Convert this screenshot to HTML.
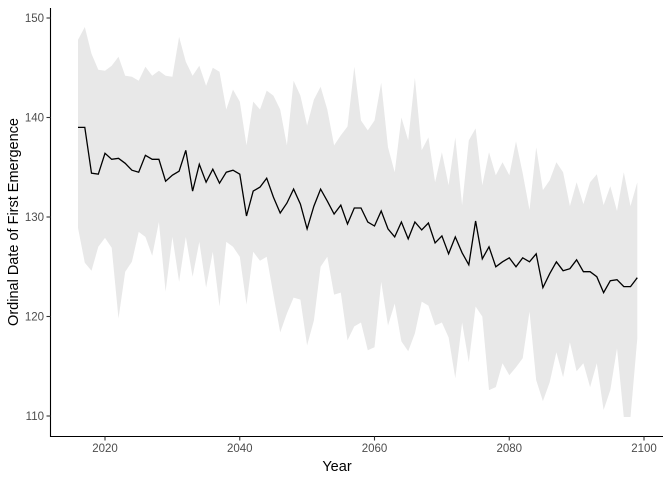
<!DOCTYPE html>
<html><head><meta charset="utf-8"><style>
body{margin:0;background:#fff}
svg{display:block;font-family:"Liberation Sans",Arial,sans-serif}
</style></head><body>
<svg id="chart" width="672" height="480">
<g id="band"></g>
<g id="line"></g>
<g id="axes"></g>
<text x="337" y="471" text-anchor="middle" font-size="14.5" fill="#000">Year</text>
<text transform="translate(18,222) rotate(-90)" text-anchor="middle" font-size="14.5" fill="#000">Ordinal Date of First Emergence</text>
</svg>
<script>
const years = [];
for (let y = 2016; y <= 2099; y++) years.push(y);
const meanValues = [139.0,139.0,134.4,134.3,136.4,135.8,135.9,135.4,134.7,134.5,136.2,135.8,135.8,133.6,134.2,134.6,136.7,132.6,135.3,133.5,134.8,133.4,134.5,134.7,134.3,130.1,132.6,133.0,133.9,132.0,130.4,131.4,132.8,131.3,128.8,131.1,132.8,131.6,130.3,131.2,129.3,130.9,130.9,129.5,129.1,130.6,128.8,128.0,129.5,127.8,129.5,128.7,129.4,127.4,128.1,126.3,128.0,126.4,125.2,129.6,125.8,127.0,125.0,125.5,125.9,125.0,125.9,125.5,126.3,122.9,124.3,125.5,124.6,124.8,125.7,124.5,124.5,124.0,122.4,123.6,123.7,123.0,123.0,123.9];
const upperValues = [147.8,149.1,146.4,144.8,144.7,145.2,146.1,144.2,144.1,143.7,145.1,144.2,144.7,144.2,144.1,148.1,145.6,144.2,145.2,143.2,145.0,144.6,140.8,142.8,141.6,137.2,141.6,140.8,142.7,142.2,140.8,137.2,143.7,142.2,139.2,141.8,143.1,140.8,137.2,138.2,139.1,145.1,139.7,138.7,139.7,143.5,137.0,134.5,140.0,137.7,144.0,136.7,138.0,133.5,136.5,133.2,138.0,131.2,137.7,138.9,133.2,136.5,134.2,135.5,134.2,137.6,134.4,130.7,137.0,132.7,133.7,135.5,134.5,131.1,133.5,131.3,133.5,134.3,131.2,133.1,130.6,134.5,131.1,133.5];
const lowerValues = [128.9,125.4,124.6,127.0,127.9,126.9,119.8,124.5,125.5,128.5,128.0,126.1,129.5,122.5,128.0,123.5,128.0,124.0,127.5,122.9,126.5,121.0,127.5,127.0,126.0,121.2,126.5,125.6,126.0,122.2,118.4,120.3,121.9,121.7,117.1,119.6,125.0,126.0,122.2,122.4,117.6,119.0,119.4,116.6,116.9,123.5,119.1,121.3,117.5,116.5,118.3,121.5,121.1,119.1,119.4,117.9,113.8,119.4,115.4,121.0,120.0,112.6,112.9,115.3,114.1,114.9,115.8,120.5,113.6,111.5,113.4,116.4,113.9,117.4,114.5,115.3,112.9,115.3,110.6,112.6,116.8,109.9,109.9,117.8];
const xTicks = [2020,2040,2060,2080,2100];
const yTicks = [110,120,130,140,150];

const NS = "http://www.w3.org/2000/svg";
const X = v => 105 + (v - 2020) * (539 / 80);
const Y = v => 18 + (150 - v) * (398 / 40);

const band = document.getElementById('band');
let d = years.map((yr,i)=>(i?'L':'M')+X(yr).toFixed(1)+','+Y(upperValues[i]).toFixed(1)).join('');
for (let i = years.length-1; i >= 0; i--) d += 'L'+X(years[i]).toFixed(1)+','+Y(lowerValues[i]).toFixed(1);
const bp = document.createElementNS(NS,'path');
bp.setAttribute('d', d + 'Z');
bp.setAttribute('fill', '#e8e8e8');


band.appendChild(bp);

const lp = document.createElementNS(NS,'path');
lp.setAttribute('d', years.map((yr,i)=>(i?'L':'M')+X(yr).toFixed(1)+','+Y(meanValues[i]).toFixed(1)).join(''));
lp.setAttribute('fill','none');
lp.setAttribute('stroke','#000');
lp.setAttribute('stroke-width','1.3');


document.getElementById('line').appendChild(lp);

const axes = document.getElementById('axes');
function add(tag, attrs, txt){
  const e = document.createElementNS(NS, tag);
  for (const k in attrs) e.setAttribute(k, attrs[k]);
  if (txt !== undefined) e.textContent = txt;
  axes.appendChild(e);
  return e;
}
const xa = add('line',{x1:50.5,x2:663,y1:436.5,y2:436.5,stroke:'#000','stroke-width':1.1});


const ya = add('line',{x1:50.5,x2:50.5,y1:8,y2:437,stroke:'#000','stroke-width':1.1});


xTicks.forEach(t=>{
  const tk = add('line',{x1:X(t),x2:X(t),y1:436.5,y2:440.5,stroke:'#333','stroke-width':1.1});
  
  
  const lb = add('text',{x:X(t),y:452,'text-anchor':'middle','font-size':11.5,fill:'#4d4d4d'},String(t));
  
  
});
yTicks.forEach(t=>{
  const tk = add('line',{x1:46.5,x2:50.5,y1:Y(t),y2:Y(t),stroke:'#333','stroke-width':1.1});
  
  
  const lb = add('text',{x:44,y:Y(t)+4,'text-anchor':'end','font-size':11.5,fill:'#4d4d4d'},String(t));
  
  
});
</script>
</body></html>
